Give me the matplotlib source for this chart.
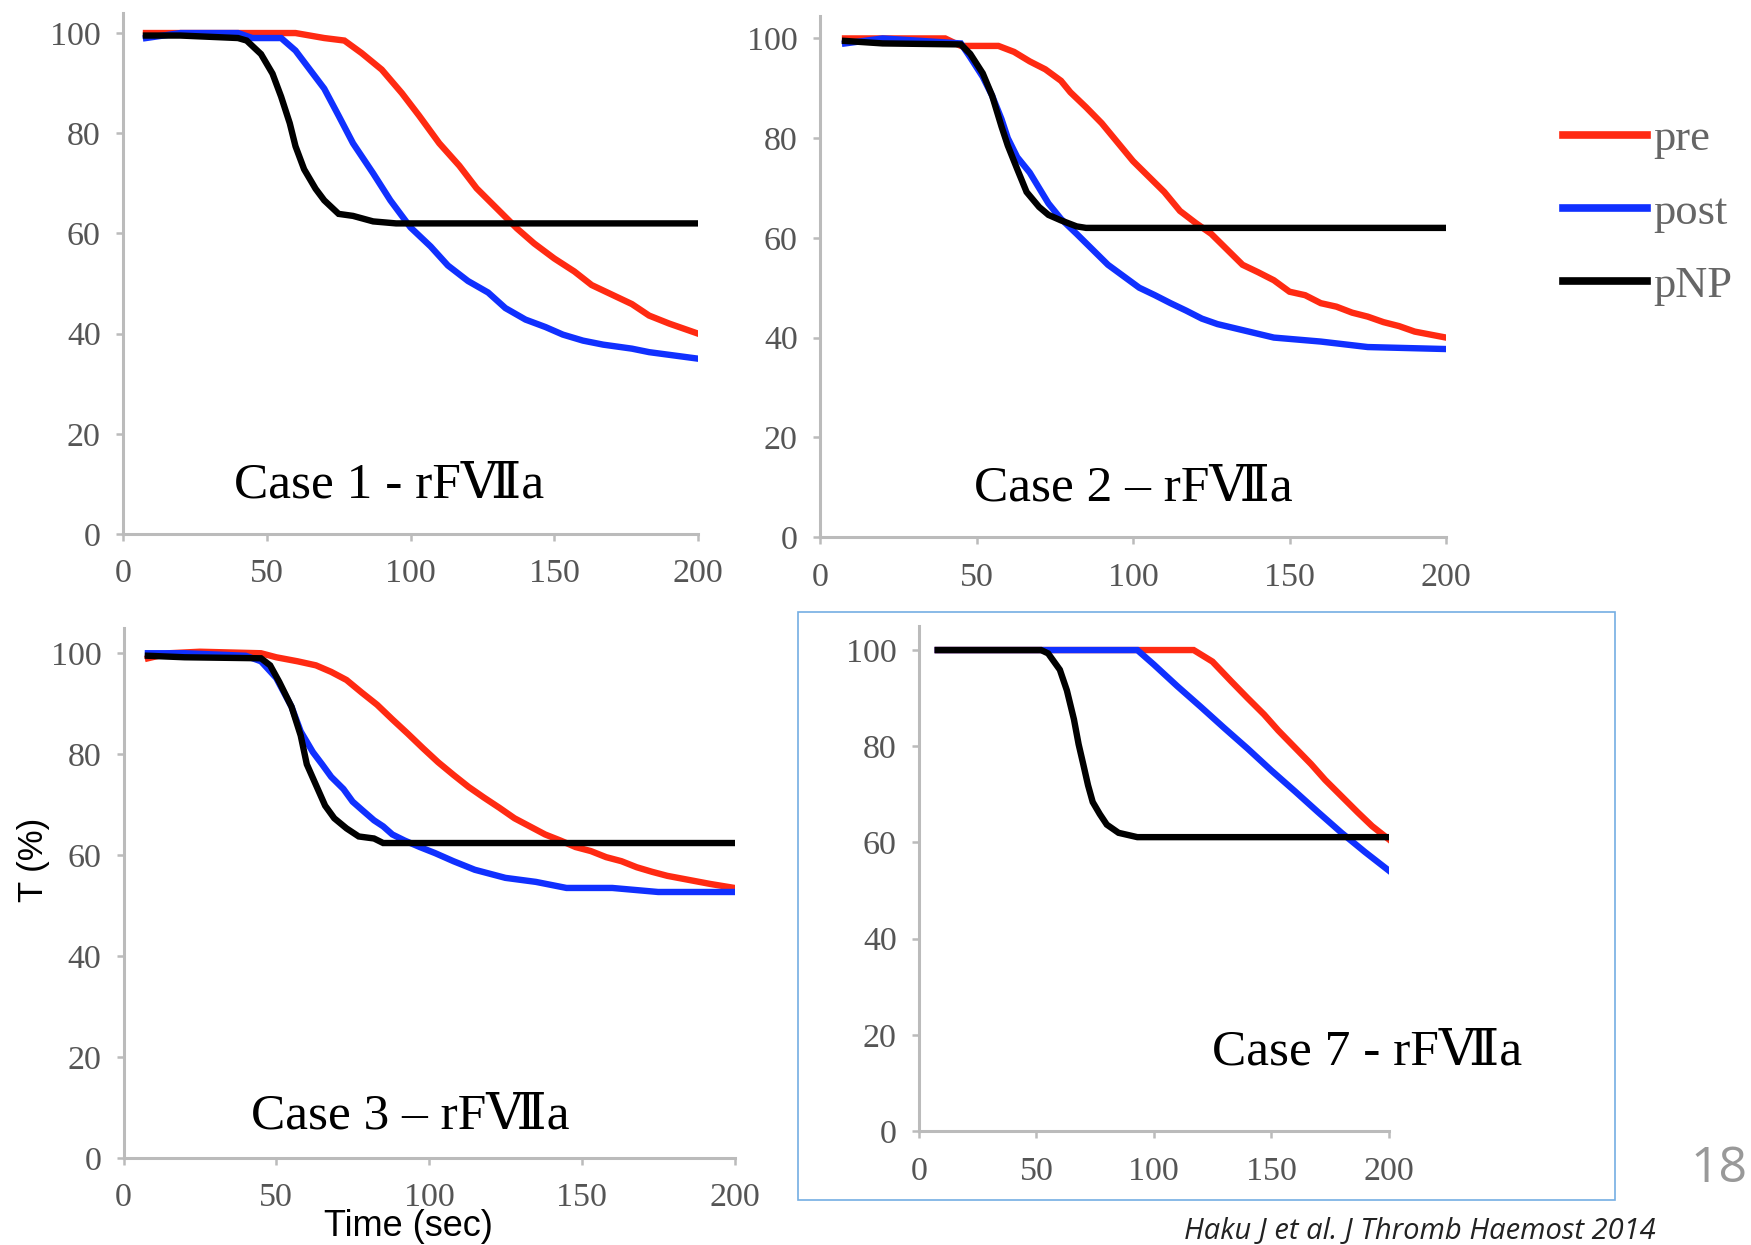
import matplotlib
matplotlib.use("Agg")
import matplotlib.pyplot as plt
from matplotlib.patches import Rectangle

# ---------------- data ----------------
series_names = ["pre", "post", "pNP"]
x_ticks = [0, 50, 100, 150, 200]
y_ticks = [0, 20, 40, 60, 80, 100]

case_titles = ["Case 1 - rF\u2166a", "Case 2 \u2013 rF\u2166a", "Case 3 \u2013 rF\u2166a", "Case 7 - rF\u2166a"]

# Case 1
c1_pre_t = [8, 20, 35, 60, 70, 77, 83, 90, 97, 103, 110, 117, 123, 130, 137, 143, 150, 157, 163, 170, 177, 183, 190, 200]
c1_pre_v = [100, 100, 100, 100, 99, 98.5, 96, 92.7, 88, 83.5, 78, 73.5, 69, 65, 61, 58, 55, 52.4, 49.7, 47.8, 45.9, 43.6, 42, 40]
c1_post_t = [8, 20, 40, 45, 55, 60, 65, 70, 75, 80, 87, 93, 100, 107, 113, 120, 127, 133, 140, 147, 153, 160, 167, 177, 183, 200]
c1_post_v = [99, 100, 100, 99, 99, 96.5, 92.7, 88.9, 83.5, 78, 72, 66.6, 61.2, 57.4, 53.6, 50.5, 48.2, 45.1, 42.8, 41.3, 39.8, 38.6, 37.8, 37, 36.3, 35]
c1_pnp_t = [8, 20, 40, 43, 48, 52, 55, 58, 60, 63, 67, 70, 75, 80, 87, 95, 200]
c1_pnp_v = [99.5, 99.5, 99, 98.5, 95.8, 91.9, 87.3, 82, 77.4, 72.8, 68.9, 66.6, 63.9, 63.5, 62.4, 62, 62]

# Case 2
c2_pre_t = [8, 40, 45, 57, 62, 67, 72, 77, 80, 85, 90, 95, 100, 105, 110, 115, 120, 125, 130, 135, 140, 145, 150, 155, 160, 165, 170, 175, 180, 185, 190, 200]
c2_pre_v = [100, 100, 98.5, 98.5, 97.3, 95.4, 93.8, 91.5, 89.2, 86.2, 83, 79.2, 75.4, 72.3, 69.2, 65.4, 63, 60.8, 57.7, 54.6, 53.1, 51.5, 49.2, 48.5, 46.9, 46.2, 45, 44.2, 43.1, 42.3, 41.2, 40]
c2_post_t = [8, 20, 45, 48, 52, 55, 58, 60, 63, 67, 70, 73, 77, 82, 87, 92, 97, 102, 107, 112, 117, 122, 127, 135, 145, 160, 175, 200]
c2_post_v = [99, 100, 99, 96.2, 92.3, 88.5, 83.8, 80, 76.2, 73.1, 70, 66.9, 63.8, 60.8, 57.7, 54.6, 52.3, 50, 48.5, 46.9, 45.4, 43.8, 42.7, 41.5, 40, 39.2, 38.1, 37.7]
c2_pnp_t = [8, 20, 45, 48, 52, 55, 58, 60, 63, 66, 70, 73, 77, 82, 85, 200]
c2_pnp_v = [99.5, 99, 98.8, 96.9, 93, 88.5, 82.3, 78.5, 73.8, 69.2, 66.2, 64.6, 63.5, 62.3, 62, 62]

# Case 3
c3_pre_t = [8, 15, 25, 45, 50, 57, 63, 68, 73, 78, 83, 88, 93, 98, 103, 108, 113, 118, 123, 128, 133, 138, 143, 148, 153, 158, 163, 168, 173, 178, 185, 192, 200]
c3_pre_v = [99, 100, 100.3, 100, 99.2, 98.4, 97.6, 96.3, 94.7, 92.2, 89.8, 86.9, 84.1, 81.2, 78.4, 75.9, 73.5, 71.4, 69.4, 67.3, 65.7, 64.1, 62.9, 61.6, 60.8, 59.6, 58.8, 57.6, 56.7, 55.9, 55.1, 54.3, 53.5]
c3_post_t = [8, 20, 40, 45, 50, 55, 58, 62, 65, 68, 72, 75, 78, 82, 85, 88, 92, 97, 102, 108, 115, 125, 135, 145, 160, 175, 200]
c3_post_v = [100, 100, 99.5, 98.4, 95.1, 89.4, 84.5, 80.4, 78, 75.5, 73.1, 70.6, 69, 66.9, 65.7, 64.1, 62.9, 61.6, 60.4, 58.8, 57.1, 55.5, 54.7, 53.5, 53.5, 52.7, 52.7]
c3_pnp_t = [8, 20, 45, 48, 51, 55, 58, 60, 63, 66, 69, 73, 77, 82, 85, 200]
c3_pnp_v = [99.5, 99.2, 99, 97.6, 94.3, 89.4, 83.7, 78, 73.9, 69.8, 67.3, 65.3, 63.7, 63.3, 62.4, 62.4]

# Case 7
c7_pre_t = [8, 117, 125, 133, 140, 147, 153, 160, 167, 173, 180, 187, 193, 200]
c7_pre_v = [100, 100, 97.6, 93.5, 90, 86.6, 83.3, 79.8, 76.3, 73, 69.6, 66.2, 63.4, 60.7]
c7_post_t = [8, 93, 100, 110, 120, 130, 140, 150, 160, 170, 180, 190, 200]
c7_post_v = [100, 100, 97, 92.5, 88.2, 83.8, 79.5, 75, 70.7, 66.3, 62, 58, 54.2]
c7_pnp_t = [8, 52, 55, 60, 63, 66, 68, 70, 72, 74, 77, 80, 85, 93, 200]
c7_pnp_v = [100, 100, 99.3, 95.9, 91.6, 85.6, 80.4, 76.2, 71.9, 68.4, 65.9, 63.7, 62, 61.1, 61.1]

# ---------------- styling ----------------
W, H = 1751, 1245
fig = plt.figure(figsize=(W / 100, H / 100), dpi=100)

colors = {"pre": "#FF2A12", "post": "#1030FF", "pNP": "#000000"}
spine_color = "#BBBBBB"
tick_font = dict(family=["Liberation Serif", "DejaVu Serif"], size=24.5, color="#555555")
case_font = ["Liberation Serif", "DejaVu Serif", "Noto Sans CJK JP"]


def px_rect(left, right, y0, top):
    return [left / W, 1 - y0 / H, (right - left) / W, (y0 - top) / H]


panels = [
    dict(rect=px_rect(123, 698, 534, 13), ytop=104, xpad=13,
         series=[(c1_pre_t, c1_pre_v), (c1_post_t, c1_post_v), (c1_pnp_t, c1_pnp_v)],
         title=case_titles[0], tpos=(92.5, 7.2)),
    dict(rect=px_rect(820, 1446, 537, 16), ytop=104.5, xpad=13,
         series=[(c2_pre_t, c2_pre_v), (c2_post_t, c2_post_v), (c2_pnp_t, c2_pnp_v)],
         title=case_titles[1], tpos=(100, 7.4)),
    dict(rect=px_rect(123.5, 734.5, 1158, 628), ytop=105, xpad=13,
         series=[(c3_pre_t, c3_pre_v), (c3_post_t, c3_post_v), (c3_pnp_t, c3_pnp_v)],
         title=case_titles[2], tpos=(94, 5.9)),
    dict(rect=px_rect(919, 1388.5, 1131, 626), ytop=105, xpad=13,
         series=[(c7_pre_t, c7_pre_v), (c7_post_t, c7_post_v), (c7_pnp_t, c7_pnp_v)],
         title=case_titles[3], tpos=(191, 13.9)),
]

axes = []
for p in panels:
    ax = fig.add_axes(p["rect"])
    for name, (t, v) in zip(series_names, p["series"]):
        ax.plot(t, v, color=colors[name], lw=4.6, label=name, solid_joinstyle="miter")
    ax.set_xlim(0, 200)
    ax.set_ylim(0, p["ytop"])
    ax.set_xticks(x_ticks)
    ax.set_yticks(y_ticks)
    for s in ["top", "right"]:
        ax.spines[s].set_visible(False)
    for s in ["left", "bottom"]:
        ax.spines[s].set_color(spine_color)
        ax.spines[s].set_linewidth(2.2)
    ax.tick_params(axis="both", direction="out", length=5, width=1.8, color=spine_color)
    ax.tick_params(axis="y", pad=11)
    ax.tick_params(axis="x", pad=p["xpad"])
    for lab in ax.get_xticklabels() + ax.get_yticklabels():
        lab.set_fontfamily(tick_font["family"])
        lab.set_fontsize(tick_font["size"])
        lab.set_color(tick_font["color"])
    ax.patch.set_alpha(0)
    ax.text(p["tpos"][0], p["tpos"][1], p["title"], ha="center", va="baseline",
            fontsize=37, family=case_font, color="#000000")
    axes.append(ax)

# legend (figure level, right of Case 2)
handles, labels = axes[1].get_legend_handles_labels()
leg = fig.legend(handles, labels, loc="upper left", bbox_to_anchor=(1563 / W, 1 - 119 / H),
                 frameon=False, borderpad=0, borderaxespad=0, handlelength=1.9,
                 handletextpad=0.12, labelspacing=0.75,
                 prop=dict(family=["Liberation Serif", "DejaVu Serif"], size=32),
                 labelcolor="#666666")
for h in leg.legend_handles:
    h.set_linewidth(5.5)

# box around case 7
fig.patches.append(Rectangle((798 / W, 1 - 1200 / H), (1615 - 798) / W, (1200 - 612) / H,
                             transform=fig.transFigure, fill=False, edgecolor="#74AEE3", lw=1.2))

# axis labels
fig.text(33 / W, 1 - 860 / H, "T (%)", rotation=90, ha="center", va="center",
         fontsize=25, family=["Liberation Sans", "DejaVu Sans"], color="#000000")
fig.text(408 / W, 1 - 1227 / H, "Time (sec)", ha="center", va="center",
         fontsize=26, family=["Liberation Sans", "DejaVu Sans"], color="#000000")

# citation and slide number
fig.text(1420 / W, 1 - 1232 / H, "Haku J et al. J Thromb Haemost 2014", ha="center", va="center",
         fontsize=21, style="italic", family=["Open Sans", "Liberation Sans"], color="#222222")
fig.text(1748 / W, 1 - 1169 / H, "18", ha="right", va="center", fontsize=36,
         family=["Open Sans", "Liberation Sans"], color="#999999")

fig.savefig("out.png", dpi=100)
